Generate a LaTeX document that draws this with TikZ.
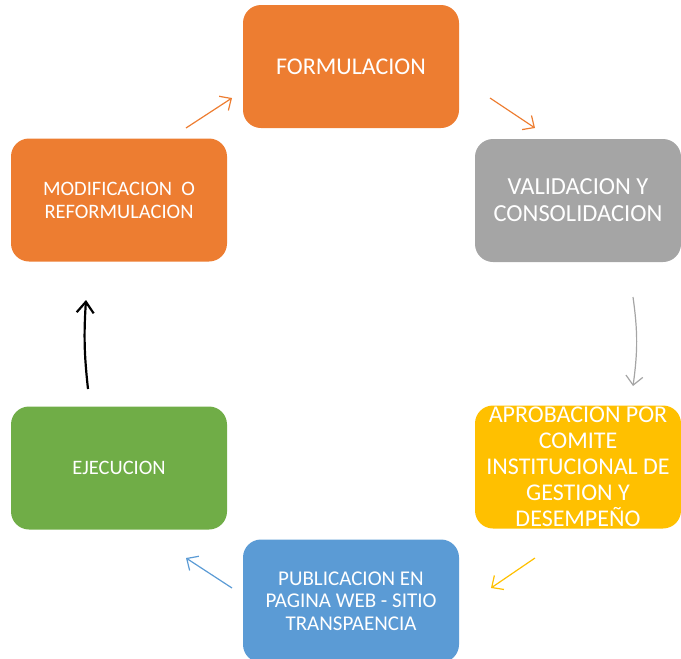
\documentclass[tikz,border=0pt]{standalone}
\usepackage{fontspec}
\setmainfont{Carlito}
\usetikzlibrary{arrows.meta}
\definecolor{orng}{HTML}{ED7D31}
\definecolor{gry}{HTML}{A5A5A5}
\definecolor{ylw}{HTML}{FFC000}
\definecolor{grn}{HTML}{70AD47}
\definecolor{blu}{HTML}{5B9BD5}
\tikzset{
    box/.style={rounded corners=18pt, minimum width=216pt, minimum height=123pt, text=white, align=center, inner sep=0pt},
    narrow/.style={style=box, minimum width=206pt},
    e/.style={line width=1.2pt, -{Straight Barb[length=9pt,width=17pt]}}, % cycle arrows
    be/.style={style=e, line width=2.2pt, -{Straight Barb[length=11pt,width=17pt]}} % back arrow
}

\begin{document}
\begin{tikzpicture}[x=1pt, y=-1pt]
  \useasboundingbox (0,0) rectangle (681,659);
  \clip (0,0) rectangle (681,659);

  \node[box, fill=orng, font=\fontsize{24}{28}\selectfont] (form) at (351, 66.5) {FORMULACION};
  \node[narrow, fill=gry, font=\fontsize{24.5}{27}\selectfont] (valid) at (578, 200.5) {VALIDACION Y\\CONSOLIDACION};
  \node[narrow, fill=ylw, font=\fontsize{24}{26}\selectfont] (aprob) at (578, 467) {APROBACION POR\\COMITE\\INSTITUCIONAL DE\\GESTION Y\\DESEMPEÑO};
  \node[box, fill=blu, font=\fontsize{21}{22.5}\selectfont] (publ) at (351, 601) {PUBLICACION EN\\PAGINA WEB - SITIO\\TRANSPAENCIA};
  \node[box, fill=grn, font=\fontsize{20.5}{22}\selectfont] (ejec) at (119, 468) {EJECUCION};
  \node[box, fill=orng, font=\fontsize{20.5}{23}\selectfont] (modif) at (119, 200) {MODIFICACION~~O\\REFORMULACION};

  \coordinate (a1s) at (186, 128);
  \coordinate (a1e) at (232, 98);
  \coordinate (a2s) at (490, 98);
  \coordinate (a2e) at (535, 128);
  \coordinate (a3s) at (633, 297);
  \coordinate (a3e) at (633, 386);
  \coordinate (a4s) at (535, 558);
  \coordinate (a4e) at (491, 588);
  \coordinate (a5s) at (232, 588);
  \coordinate (a5e) at (186, 558);
  \coordinate (a6s) at (88, 389);
  \coordinate (a6e) at (86, 300);

  \draw[e, orng] (a1s) to (a1e);
  \draw[e, orng] (a2s) to (a2e);
  \draw[e, gry] (a3s) to[bend left=8] (a3e);
  \draw[e, ylw] (a4s) to (a4e);
  \draw[e, blu] (a5s) to (a5e);
  \draw[be, black] (a6s) to[bend left=5] (a6e);
\end{tikzpicture}
\end{document}
